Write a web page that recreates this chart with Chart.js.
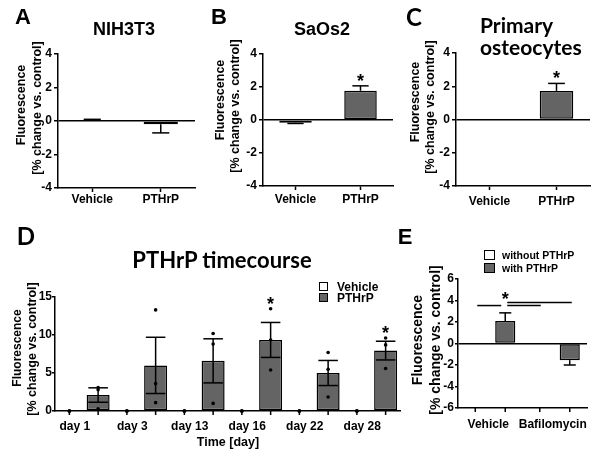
<!DOCTYPE html>
<html>
<head>
<meta charset="utf-8">
<title>PTHrP fluorescence</title>
<script src="https://cdn.jsdelivr.net/npm/chart.js@4.4.0/dist/chart.umd.min.js"></script>
<style>
  body { margin: 0; background: #fff; }
  #fig { position: relative; width: 600px; height: 459px; overflow: hidden; background: #fff;
         font-family: 'Liberation Sans', Arial, sans-serif; font-weight: bold; color: #000; }
  #fig canvas { position: absolute; }
  .txt { position: absolute; white-space: nowrap; line-height: 1; transform: translate(-50%, -50%); }
  .lft { position: absolute; white-space: nowrap; line-height: 1; transform: translate(0, -50%); }
  .rot { transform: translate(-50%, -50%) rotate(-90deg); }
  .nar { font-family: 'Liberation Sans Narrow', 'Arial Narrow', sans-serif; }
  .cal { font-family: Lato, 'Liberation Sans', sans-serif; }
  .box { position: absolute; border: 1px solid #000; box-sizing: border-box; }
</style>
</head>
<body>
<div id="fig">
  <canvas id="chartA" width="200" height="210" style="left:0;top:0"></canvas>
  <canvas id="chartB" width="200" height="210" style="left:200px;top:0"></canvas>
  <canvas id="chartC" width="200" height="210" style="left:400px;top:0"></canvas>
  <canvas id="chartD" width="410" height="249" style="left:0;top:210px"></canvas>
  <canvas id="chartE" width="190" height="249" style="left:410px;top:210px"></canvas>

  <!-- panel A -->
  <div class="txt" style="left:23px;top:17px;font-size:22px">A</div>
  <div class="txt" style="left:124px;top:29px;font-size:18px">NIH3T3</div>
  <div class="txt rot nar" style="left:21px;top:105px;font-size:12.5px">Fluorescence</div>
  <div class="txt rot" style="left:37px;top:108px;font-size:12.5px">[% change vs. control]</div>

  <!-- panel B -->
  <div class="txt" style="left:219px;top:17px;font-size:22px">B</div>
  <div class="txt" style="left:322px;top:29px;font-size:18px">SaOs2</div>
  <div class="txt rot nar" style="left:220px;top:100px;font-size:12.5px">Fluorescence</div>
  <div class="txt rot" style="left:235px;top:106px;font-size:12.5px">[% change vs. control]</div>

  <!-- panel C -->
  <div class="txt cal" style="left:414px;top:17px;font-size:24px">C</div>
  <div class="lft cal" style="left:480px;top:24px;font-size:21px">Primary</div>
  <div class="lft cal" style="left:480px;top:46px;font-size:21px">osteocytes</div>
  <div class="txt rot nar" style="left:415px;top:102px;font-size:12.5px">Fluorescence</div>
  <div class="txt rot" style="left:430px;top:107px;font-size:12.5px">[% change vs. control]</div>

  <!-- panel D -->
  <div class="txt cal" style="left:26px;top:236px;font-size:24px">D</div>
  <div class="txt cal" style="left:222px;top:260px;font-size:22px">PTHrP timecourse</div>
  <div class="txt rot" style="left:17px;top:348px;font-size:12px">Fluorescence</div>
  <div class="txt rot" style="left:32px;top:349px;font-size:12.5px">[% change vs. control]</div>
  <div class="txt" style="left:228px;top:442px;font-size:12.5px">Time [day]</div>
  <div class="box" style="left:319px;top:282px;width:9px;height:9px;background:#fff"></div>
  <div class="box" style="left:319px;top:293px;width:9px;height:9px;background:#646464"></div>
  <div class="lft" style="left:337px;top:287px;font-size:12px">Vehicle</div>
  <div class="lft" style="left:337px;top:298px;font-size:12px">PTHrP</div>

  <!-- panel E -->
  <div class="txt" style="left:405px;top:237px;font-size:22px">E</div>
  <div class="txt rot" style="left:417px;top:340px;font-size:14px">Fluorescence</div>
  <div class="txt rot" style="left:435px;top:340px;font-size:14px">[% change vs. control]</div>
  <div class="box" style="left:484px;top:250px;width:11px;height:10px;background:#fff"></div>
  <div class="box" style="left:484px;top:263px;width:11px;height:10px;background:#646464"></div>
  <div class="lft" style="left:502px;top:255px;font-size:10.5px">without PTHrP</div>
  <div class="lft" style="left:502px;top:268px;font-size:10.5px">with PTHrP</div>
</div>

<script>
// Panels A-C
const conditions = ['Vehicle', 'PTHrP'];
const yTicksABC = [-4, -2, 0, 2, 4];
const nihMean = [0.05, -0.19];
const nihSem = [0.05, 0.52];
const nihStars = [false, false];
const saosMean = [-0.16, 1.77];
const saosSem = [0.05, 0.3];
const saosStars = [false, true];
const osteoMean = [0, 1.72];
const osteoSem = [0, 0.45];
const osteoStars = [false, true];

// Panel D
const days = ['day 1', 'day 3', 'day 13', 'day 16', 'day 22', 'day 28'];
const yTicksD = [0, 5, 10, 15];
const vehicleMean = [0, 0, 0, 0, 0, 0];
const vehiclePoints = [[0, 0, 0], [0, 0, 0], [0, 0, 0], [0, 0, 0], [0, 0, 0], [0, 0, 0]];
const pthrpMean = [2.1, 6.0, 6.6, 9.35, 5.0, 7.95];
const pthrpSem = [0.95, 3.7, 2.9, 2.3, 1.65, 1.23];
const pthrpPoints = [[3.1, 2.8, 0.3], [13.3, 3.6, 1.1], [10.2, 8.8, 1.0], [13.45, 9.35, 5.4], [7.7, 5.5, 1.85], [9.6, 8.7, 5.6]];
const pthrpStars = [false, false, false, true, false, true];

// Panel E
const treatments = ['Vehicle', 'Bafilomycin'];
const yTicksE = [-6, -4, -2, 0, 2, 4, 6];
const withoutMean = [0, 0];
const withMean = [2.1, -1.55];
const withSem = [0.75, 0.45];

const blk = '#000';
const grey = '#646464';
const clear = 'rgba(0,0,0,0)';
const tickFont = { family: "'Liberation Sans', Arial, sans-serif", size: 12, weight: 'bold' };

function yScale(ticksArr, width, zeroLine, tickLen, pad) {
    return {
        min: ticksArr[0],
        max: ticksArr[ticksArr.length - 1],
        afterBuildTicks: s => { s.ticks = ticksArr.map(v => ({ value: v })); },
        afterFit: s => { s.width = width; },
        grid: {
            drawOnChartArea: zeroLine,
            color: c => (c.tick && c.tick.value === 0) ? blk : clear,
            lineWidth: 1.5,
            tickColor: blk, tickLength: tickLen, tickWidth: 1.5
        },
        border: { color: blk, width: 1.5 },
        ticks: { color: blk, font: tickFont, padding: pad }
    };
}

function xScale(height, tickMarks, labelOffset, pad) {
    return {
        afterFit: s => { s.height = height; },
        grid: {
            drawOnChartArea: false, offset: false,
            tickLength: 4, tickWidth: 1.5, tickColor: tickMarks ? blk : clear
        },
        border: { color: blk, width: 1.5 },
        ticks: { color: blk, font: tickFont, padding: pad, labelOffset: labelOffset, maxRotation: 0, autoSkip: false }
    };
}

function baseOptions(padding, y, x) {
    return {
        responsive: false,
        animation: false,
        events: [],
        layout: { padding: Object.assign({ left: 0, right: 0, top: 0, bottom: 0 }, padding) },
        plugins: { legend: { display: false }, tooltip: { enabled: false } },
        scales: { x: x, y: y }
    };
}

function barSet(label, data, fill, catPct, barPct) {
    return {
        label: label,
        data: data,
        backgroundColor: fill,
        borderColor: blk,
        borderWidth: 1.5,
        borderSkipped: false,
        inflateAmount: 0,
        categoryPercentage: catPct,
        barPercentage: barPct
    };
}

function line(ctx, x1, y1, x2, y2) {
    ctx.beginPath();
    ctx.moveTo(x1, y1);
    ctx.lineTo(x2, y2);
    ctx.stroke();
}

function star(ctx, x, yc) {
    ctx.font = "bold 18px 'Liberation Sans', Arial, sans-serif";
    ctx.textAlign = 'center';
    ctx.textBaseline = 'alphabetic';
    ctx.fillText('*', x, yc + 10);
}

// error bars, replicate dots, asterisks and tick marks under bars
function marks(cfg) {
    return {
        id: 'marks',
        afterDatasetsDraw(chart) {
            const ctx = chart.ctx;
            const y = chart.scales.y;
            ctx.save();
            ctx.strokeStyle = blk;
            ctx.fillStyle = blk;
            ctx.lineWidth = 1.5;
            cfg.series.forEach((s, di) => {
                chart.getDatasetMeta(di).data.forEach((bar, i) => {
                    const m = s.mean[i];
                    const cap = bar.width * cfg.capFrac / 2;
                    let top = Math.max(m, 0);
                    if (cfg.barTicks) {
                        line(ctx, bar.x, chart.chartArea.bottom, bar.x, chart.chartArea.bottom + 4);
                    }
                    const e = s.sem ? s.sem[i] : 0;
                    if (e) {
                        const lo = cfg.twoSided ? m - e : m;
                        const hi = cfg.twoSided ? m + e : (m >= 0 ? m + e : m - e);
                        const yLo = y.getPixelForValue(lo), yHi = y.getPixelForValue(hi);
                        line(ctx, bar.x, yLo, bar.x, yHi);
                        line(ctx, bar.x - cap, yHi, bar.x + cap, yHi);
                        if (cfg.twoSided) line(ctx, bar.x - cap, yLo, bar.x + cap, yLo);
                        top = Math.max(top, lo, hi);
                    }
                    if (s.points) {
                        s.points[i].forEach(v => {
                            ctx.beginPath();
                            ctx.arc(bar.x, y.getPixelForValue(v), 1.8, 0, Math.PI * 2);
                            ctx.fill();
                            top = Math.max(top, v);
                        });
                    }
                    if (s.stars && s.stars[i]) {
                        star(ctx, bar.x, y.getPixelForValue(top) - 9);
                    }
                });
            });
            ctx.restore();
        }
    };
}

// significance brackets of panel E
const sigLines = {
    id: 'sigLines',
    afterDatasetsDraw(chart) {
        const ctx = chart.ctx;
        const y = chart.scales.y;
        const a = chart.getDatasetMeta(0).data;
        const b = chart.getDatasetMeta(1).data;
        const ref = b[0].x;
        const yLow = y.getPixelForValue(3.53);
        const yHigh = y.getPixelForValue(3.82);
        ctx.save();
        ctx.strokeStyle = blk;
        ctx.fillStyle = blk;
        ctx.lineWidth = 1.5;
        line(ctx, a[0].x + 2, yLow, ref - 4, yLow);
        line(ctx, ref + 2, yLow, a[1].x + 1, yLow);
        line(ctx, ref + 2, yHigh, b[1].x + 2, yHigh);
        star(ctx, ref, y.getPixelForValue(4.47));
        ctx.restore();
    }
};

function twoBarPanel(id, mean, sem, stars, padding, yWidth, xHeight, xPad) {
    new Chart(document.getElementById(id), {
        type: 'bar',
        data: { labels: conditions, datasets: [barSet('mean', mean, ['#fff', grey], 1, 0.5)] },
        options: baseOptions(padding, yScale(yTicksABC, yWidth, true, 4, 2), xScale(xHeight, true, 0, xPad)),
        plugins: [marks({ series: [{ mean: mean, sem: sem, stars: stars }], capFrac: 0.5 })]
    });
}

twoBarPanel('chartA', nihMean, nihSem, nihStars, { top: 54, right: 5 }, 58, 22, 0);
twoBarPanel('chartB', saosMean, saosSem, saosStars, { top: 54, right: 7 }, 63, 24, 2);
twoBarPanel('chartC', osteoMean, osteoSem, osteoStars, { top: 53, right: 10 }, 56, 24, 4);

// Panel D
new Chart(document.getElementById('chartD'), {
    type: 'bar',
    data: {
        labels: days,
        datasets: [
            barSet('Vehicle', vehicleMean, '#fff', 1, 0.8),
            barSet('PTHrP', pthrpMean, grey, 1, 0.8)
        ]
    },
    options: baseOptions({ top: 87, right: 10 }, yScale(yTicksD, 55, false, 3, 0), xScale(48, false, -9, 4)),
    plugins: [marks({
        series: [
            { mean: vehicleMean, points: vehiclePoints },
            { mean: pthrpMean, sem: pthrpSem, points: pthrpPoints, stars: pthrpStars }
        ],
        capFrac: 0.85, twoSided: true, barTicks: true
    })]
});

// Panel E
new Chart(document.getElementById('chartE'), {
    type: 'bar',
    data: {
        labels: treatments,
        datasets: [
            barSet('without PTHrP', withoutMean, '#fff', 0.93, 0.67),
            barSet('with PTHrP', withMean, grey, 0.93, 0.67)
        ]
    },
    options: baseOptions({ top: 69, right: 13 }, yScale(yTicksE, 48, true, 3, 1), xScale(51, false, -2, 5)),
    plugins: [marks({
        series: [{ mean: withoutMean }, { mean: withMean, sem: withSem }],
        capFrac: 0.6, barTicks: true
    }), sigLines]
});
</script>
</body>
</html>
